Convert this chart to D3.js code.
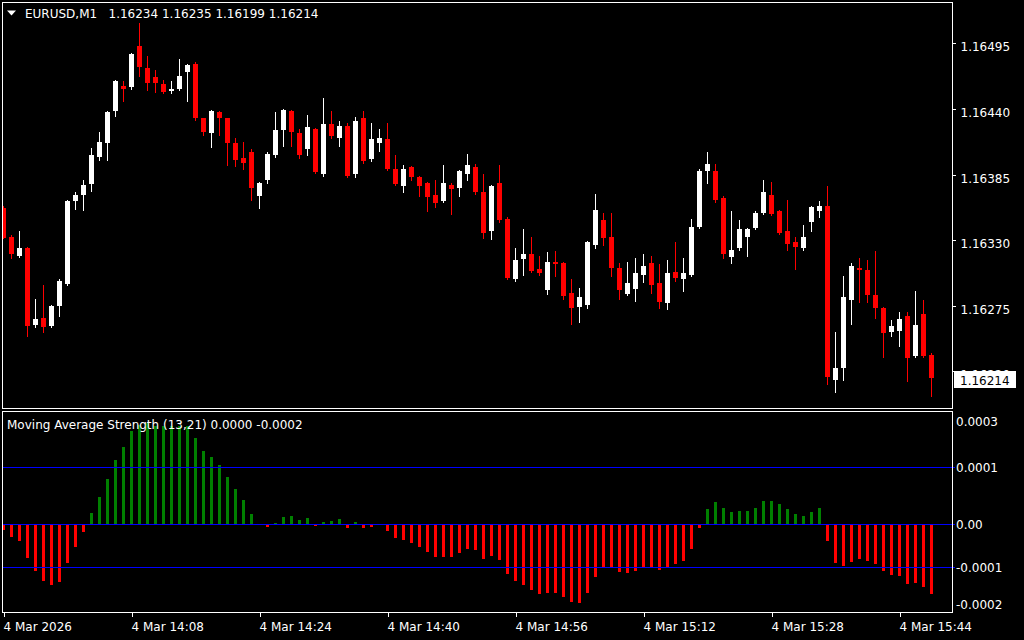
<!DOCTYPE html>
<html><head><meta charset="utf-8">
<script src="https://cdn.jsdelivr.net/npm/d3@7/dist/d3.min.js"></script>
<style>html,body{margin:0;padding:0;background:#000;overflow:hidden}text{font-family:"DejaVu Sans",sans-serif;font-size:12px}</style>
</head><body><svg id="c" width="1024" height="640"></svg>
<script>
// ---------- DATA ----------
const symbolTitle = "EURUSD,M1";
const ohlcTitle = "1.16234 1.16235 1.16199 1.16214";
const indicatorTitle = "Moving Average Strength (13,21) 0.0000 -0.0002";

const opens = [1.16357,1.16333,1.16317,1.16323,1.16259,1.16265,1.16258,1.16275,1.16293,1.16363,
1.16368,1.16377,1.16400,1.16411,1.16438,1.16459,1.16458,1.16493,1.16474,1.16467,
1.16461,1.16455,1.16457,1.16471,1.16478,1.16432,1.16420,1.16437,1.16432,1.16411,
1.16399,1.16404,1.16367,1.16380,1.16401,1.16422,1.16438,1.16420,1.16406,1.16423,
1.16385,1.16427,1.16416,1.16426,1.16385,1.16432,1.16398,1.16411,1.16415,1.16390,
1.16375,1.16391,1.16383,1.16378,1.16368,1.16363,1.16376,1.16374,1.16385,1.16391,
1.16370,1.16338,1.16378,1.16348,1.16297,1.16314,1.16318,1.16306,1.16288,1.16312,
1.16311,1.16286,1.16274,1.16276,1.16326,1.16347,1.16333,1.16307,1.16285,1.16289,
1.16301,1.16311,1.16294,1.16277,1.16303,1.16297,1.16301,1.16341,1.16388,1.16388,
1.16365,1.16316,1.16323,1.16333,1.16340,1.16353,1.16368,1.16354,1.16338,1.16328,
1.16323,1.16345,1.16354,1.16359,1.16213,1.16223,1.16280,1.16307,1.16305,1.16284,
1.16273,1.16253,1.16254,1.16266,1.16233,1.16268,1.16234];
const highs = [1.16359,1.16334,1.16338,1.16324,1.16281,1.16292,1.16276,1.16297,1.16364,1.16370,
1.16380,1.16407,1.16421,1.16438,1.16464,1.16463,1.16487,1.16512,1.16484,1.16473,
1.16464,1.16463,1.16482,1.16478,1.16479,1.16432,1.16439,1.16438,1.16432,1.16416,
1.16412,1.16406,1.16379,1.16404,1.16437,1.16440,1.16439,1.16423,1.16435,1.16424,
1.16449,1.16438,1.16430,1.16428,1.16433,1.16438,1.16428,1.16423,1.16428,1.16401,
1.16393,1.16392,1.16384,1.16379,1.16380,1.16393,1.16378,1.16389,1.16402,1.16394,
1.16385,1.16376,1.16393,1.16349,1.16323,1.16339,1.16333,1.16317,1.16320,1.16321,
1.16312,1.16297,1.16290,1.16329,1.16369,1.16353,1.16353,1.16311,1.16312,1.16315,
1.16318,1.16317,1.16310,1.16313,1.16328,1.16315,1.16348,1.16390,1.16404,1.16394,
1.16367,1.16354,1.16347,1.16340,1.16354,1.16380,1.16379,1.16355,1.16364,1.16333,
1.16343,1.16359,1.16363,1.16375,1.16253,1.16300,1.16311,1.16315,1.16313,1.16321,
1.16274,1.16263,1.16270,1.16270,1.16287,1.16280,1.16235];
const lows = [1.16332,1.16315,1.16316,1.16250,1.16257,1.16253,1.16257,1.16266,1.16292,1.16356,
1.16355,1.16371,1.16397,1.16397,1.16434,1.16447,1.16457,1.16468,1.16456,1.16454,
1.16453,1.16453,1.16456,1.16447,1.16431,1.16418,1.16408,1.16418,1.16393,1.16392,
1.16390,1.16364,1.16357,1.16378,1.16400,1.16409,1.16409,1.16399,1.16401,1.16386,
1.16384,1.16416,1.16409,1.16383,1.16383,1.16395,1.16396,1.16405,1.16389,1.16376,
1.16370,1.16380,1.16367,1.16354,1.16358,1.16362,1.16352,1.16367,1.16380,1.16369,
1.16332,1.16331,1.16345,1.16297,1.16296,1.16301,1.16303,1.16301,1.16285,1.16300,
1.16281,1.16260,1.16261,1.16273,1.16323,1.16326,1.16300,1.16281,1.16284,1.16279,
1.16295,1.16286,1.16273,1.16272,1.16296,1.16287,1.16300,1.16340,1.16378,1.16362,
1.16315,1.16311,1.16322,1.16317,1.16339,1.16352,1.16351,1.16335,1.16322,1.16306,
1.16322,1.16338,1.16349,1.16209,1.16203,1.16213,1.16260,1.16278,1.16278,1.16265,
1.16232,1.16250,1.16241,1.16212,1.16232,1.16232,1.16199];
const closes = [1.16332,1.16318,1.16323,1.16258,1.16264,1.16257,1.16275,1.16296,1.16363,1.16368,
1.16376,1.16401,1.16412,1.16437,1.16463,1.16457,1.16486,1.16475,1.16462,1.16462,
1.16454,1.16457,1.16468,1.16477,1.16432,1.16421,1.16438,1.16432,1.16411,1.16397,
1.16395,1.16374,1.16378,1.16402,1.16422,1.16439,1.16421,1.16401,1.16425,1.16387,
1.16427,1.16417,1.16426,1.16384,1.16430,1.16396,1.16415,1.16416,1.16390,1.16377,
1.16390,1.16383,1.16375,1.16366,1.16361,1.16378,1.16373,1.16388,1.16393,1.16370,
1.16336,1.16375,1.16347,1.16298,1.16313,1.16318,1.16304,1.16302,1.16312,1.16310,
1.16283,1.16273,1.16282,1.16328,1.16355,1.16332,1.16307,1.16288,1.16294,1.16302,
1.16308,1.16292,1.16278,1.16302,1.16298,1.16302,1.16341,1.16388,1.16394,1.16364,
1.16318,1.16322,1.16339,1.16339,1.16353,1.16370,1.16352,1.16336,1.16327,1.16324,
1.16333,1.16358,1.16359,1.16215,1.16223,1.16282,1.16308,1.16305,1.16284,1.16273,
1.16252,1.16258,1.16264,1.16231,1.16259,1.16233,1.16214];

// Moving Average Strength histogram values
const strength = [-0.000011,-0.000027,-0.000036,-0.000076,-0.000106,-0.000129,-0.000138,-0.000132,-0.000087,-0.000050,
-0.000015,0.000026,0.000063,0.000105,0.000149,0.000179,0.000216,0.000229,0.000233,0.000226,
0.000226,0.000227,0.000227,0.000227,0.000199,0.000169,0.000155,0.000137,0.000109,0.000082,
0.000056,0.000024,0,-0.000005,0.000003,0.000017,0.000019,0.000010,0.000015,-0.000003,
0.000005,0.000008,0.000012,-0.000006,0.000005,-0.000006,-0.000004,0,-0.000013,-0.000029,
-0.000034,-0.000041,-0.000050,-0.000062,-0.000073,-0.000073,-0.000073,-0.000064,-0.000055,-0.000057,
-0.000078,-0.000071,-0.000080,-0.000112,-0.000129,-0.000138,-0.000149,-0.000159,-0.000156,-0.000156,
-0.000166,-0.000177,-0.000179,-0.000156,-0.000119,-0.000099,-0.000099,-0.000108,-0.000110,-0.000106,
-0.000096,-0.000096,-0.000103,-0.000096,-0.000089,-0.000082,-0.000055,-0.000006,0.000035,0.000052,
0.000038,0.000028,0.000031,0.000031,0.000038,0.000054,0.000054,0.000047,0.000035,0.000024,
0.000019,0.000028,0.000038,-0.000036,-0.000087,-0.000094,-0.000085,-0.000078,-0.000082,-0.000089,
-0.000106,-0.000115,-0.000117,-0.000136,-0.000133,-0.000143,-0.000159];

const priceTicks = [1.16495,1.16440,1.16385,1.16330,1.16275,1.16220];
const timeTickIndex = [0,16,32,48,64,80,96,112];
const timeLabels = ["4 Mar 2026","4 Mar 14:08","4 Mar 14:24","4 Mar 14:40","4 Mar 14:56","4 Mar 15:12","4 Mar 15:28","4 Mar 15:44"];
const indLevels = [0.000132, 0, -0.0001];
const indLevelLabels = ["0.0001","0.00","-0.0001"];
const indScaleMax = 0.000259, indScaleMin = -0.000203;
const indMaxLabel = "0.0003", indMinLabel = "-0.0002";
const lastPrice = 1.16214;

// ---------- LAYOUT ----------
const svg = d3.select("#c");
svg.append("rect").attr("width",1024).attr("height",640).attr("fill","#000");
const L = 2, R = 952, mainTop = 2, mainBottom = 408, indTop = 411, indBottom = 612;

const n = opens.length;
const x = d3.scaleLinear().domain([0, n-1]).range([3, 3 + 8*(n-1)]);
const y = d3.scaleLinear().domain([1.16275, 1.16495]).range([305.7, 43.3]);
const yi = d3.scaleLinear().domain([indScaleMin, indScaleMax]).range([indBottom, indTop + 1]);

const defs = svg.append("defs");
defs.append("clipPath").attr("id","cm").append("rect").attr("x",L+1).attr("y",mainTop+1).attr("width",R-L-1).attr("height",mainBottom-mainTop-1);
defs.append("clipPath").attr("id","ci").append("rect").attr("x",L+1).attr("y",indTop+1).attr("width",R-L-1).attr("height",indBottom-indTop-1);

// candles
const gm = svg.append("g").attr("clip-path","url(#cm)").attr("shape-rendering","crispEdges");
const idx = d3.range(n);
gm.selectAll("rect.w").data(idx).join("rect").attr("class","w")
  .attr("x", i => x(i)).attr("width", 1)
  .attr("y", i => Math.round(y(highs[i])))
  .attr("height", i => Math.max(1, Math.round(y(lows[i])) - Math.round(y(highs[i])) + 1))
  .attr("fill", i => closes[i] >= opens[i] ? "#ffffff" : "#ff0000");
gm.selectAll("rect.b").data(idx).join("rect").attr("class","b")
  .attr("x", i => x(i) - 2).attr("width", 5)
  .attr("y", i => Math.round(y(Math.max(opens[i], closes[i]))))
  .attr("height", i => Math.max(1, Math.round(y(Math.min(opens[i], closes[i]))) - Math.round(y(Math.max(opens[i], closes[i])))))
  .attr("fill", i => closes[i] >= opens[i] ? "#ffffff" : "#ff0000");

// histogram
const gi = svg.append("g").attr("clip-path","url(#ci)").attr("shape-rendering","crispEdges");
const z = Math.round(yi(0));
gi.selectAll("rect").data(idx.filter(i => strength[i] !== 0)).join("rect")
  .attr("x", i => x(i) - 1).attr("width", 3)
  .attr("y", i => strength[i] > 0 ? Math.round(yi(strength[i])) : z + 1)
  .attr("height", i => strength[i] > 0 ? z - Math.round(yi(strength[i])) : Math.round(yi(strength[i])) - z)
  .attr("fill", i => strength[i] > 0 ? "#008000" : "#ff0000");

// level lines
svg.append("g").attr("shape-rendering","crispEdges").selectAll("line").data(indLevels).join("line")
  .attr("x1", L+1).attr("x2", R+3)
  .attr("y1", d => Math.round(yi(d)) + 0.5).attr("y2", d => Math.round(yi(d)) + 0.5)
  .attr("stroke", "#0000ff").attr("stroke-width", d => d === 0 ? 1.5 : 1);

// frames
const fr = svg.append("g").attr("fill","none").attr("stroke","#fff").attr("shape-rendering","crispEdges");
fr.append("rect").attr("x",L+0.5).attr("y",mainTop+0.5).attr("width",R-L).attr("height",mainBottom-mainTop);
fr.append("rect").attr("x",L+0.5).attr("y",indTop+0.5).attr("width",R-L).attr("height",indBottom-indTop);

// price axis
const pa = svg.append("g").attr("transform",`translate(${R+0.5},0)`)
  .call(d3.axisRight(y).tickValues(priceTicks).tickSize(3).tickPadding(5).tickFormat(d3.format(".5f")));
pa.select(".domain").remove();
pa.selectAll(".tick line").attr("stroke","#fff").attr("shape-rendering","crispEdges");
pa.selectAll(".tick text").attr("dy",null).attr("y",7.5).attr("fill","#fff")
  .style("font-family","DejaVu Sans").style("font-size","12px");

// current price box (drawn over the partly hidden 1.16220 label, as in the terminal)
const ly = y(lastPrice);
svg.append("rect").attr("x",954).attr("y",Math.round(ly) - 7).attr("width",62).attr("height",17).attr("fill","#fff");
svg.append("text").attr("x",960).attr("y",Math.round(ly) + 7).attr("fill","#000").text(d3.format(".5f")(lastPrice));

// time axis
const ta = svg.append("g").attr("transform",`translate(0.5,${indBottom+0.5})`)
  .call(d3.axisBottom(x).tickValues(timeTickIndex).tickSize(4).tickFormat((d,i) => timeLabels[i]));
ta.select(".domain").remove();
ta.selectAll(".tick line").attr("stroke","#fff").attr("shape-rendering","crispEdges");
ta.selectAll(".tick text").attr("dy",null).attr("y",18).attr("x",-0.5).attr("text-anchor","start").attr("fill","#fff")
  .style("font-family","DejaVu Sans").style("font-size","12px");

// indicator axis labels
const il = svg.append("g").attr("fill","#fff");
il.append("text").attr("x",956).attr("y",426).text(indMaxLabel);
il.append("text").attr("x",956).attr("y",609).text(indMinLabel);
il.selectAll("text.lv").data(indLevels).join("text").attr("class","lv")
  .attr("x",956).attr("y", d => Math.round(yi(d)) + 5).text((d,i) => indLevelLabels[i]);

// titles
svg.append("path").attr("d","M7,10.5 L16,10.5 L11.5,15.5 Z").attr("fill","#fff");
svg.append("text").attr("x",25).attr("y",18).attr("fill","#fff").text(symbolTitle);
svg.append("text").attr("x",108.5).attr("y",18).attr("fill","#fff").text(ohlcTitle);
svg.append("text").attr("x",7).attr("y",429).attr("fill","#fff").text(indicatorTitle);
</script></body></html>
